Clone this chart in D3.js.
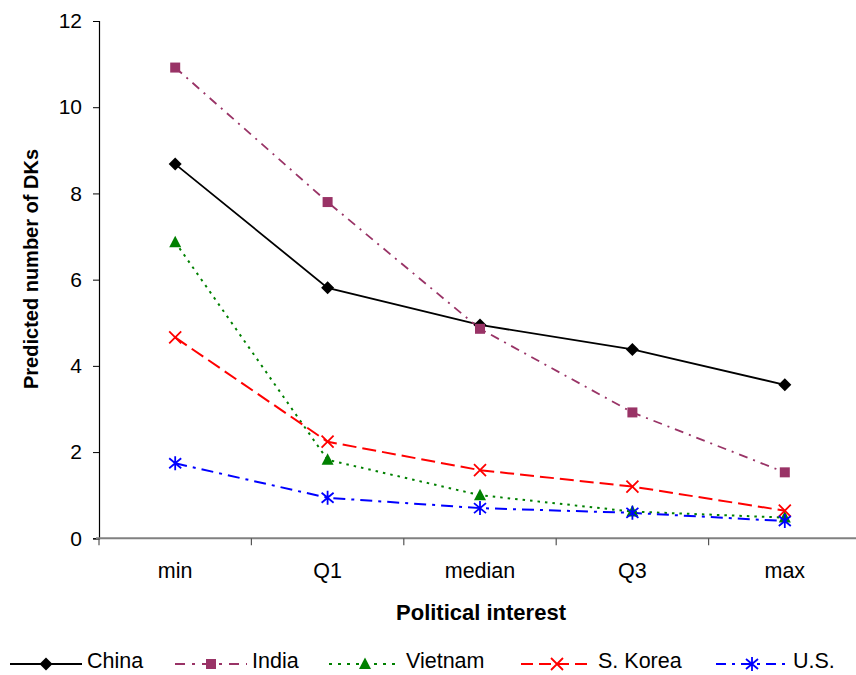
<!DOCTYPE html>
<html>
<head>
<meta charset="utf-8">
<script src="https://cdn.jsdelivr.net/npm/d3@7"></script>
<style>
  html, body { margin: 0; padding: 0; background: #fff; }
  svg { display: block; font-family: "Liberation Sans", Arial, sans-serif; }
</style>
</head>
<body>
<svg id="chart" width="856" height="675"></svg>
<script>
// Political interest levels along the x axis
const categories = ["min", "Q1", "median", "Q3", "max"];
const yTicks = [0, 2, 4, 6, 8, 10, 12];

// Predicted number of DKs per country
const china   = [8.68, 5.81, 4.95, 4.38, 3.56];
const india   = [10.92, 7.80, 4.86, 2.92, 1.53];
const vietnam = [6.87, 1.82, 1.00, 0.62, 0.48];
const korea   = [4.66, 2.24, 1.58, 1.20, 0.64];
const us      = [1.74, 0.94, 0.70, 0.59, 0.40];

const seriesNames = ["China", "India", "Vietnam", "S. Korea", "U.S."];

const series = [
  { name: seriesNames[0], values: china,   color: "#000000", dash: null,        legendDash: null,       width: 1.8, marker: "diamond" },
  { name: seriesNames[1], values: india,   color: "#993366", dash: "9,6,2,6",   legendDash: "10,7,3,7", width: 1.8, marker: "square" },
  { name: seriesNames[2], values: vietnam, color: "#008000", dash: "2.5,5",     legendDash: "3,6",      width: 2,   marker: "triangle" },
  { name: seriesNames[3], values: korea,   color: "#FF0000", dash: "14,6",      legendDash: "12,6",     width: 2,   marker: "x" },
  { name: seriesNames[4], values: us,      color: "#0000FF", dash: "12,6,3,6",  legendDash: "10,6,3,6", width: 2,   marker: "asterisk" }
];

// Legend layout: left edge of each entry's sample line
const legendX = [10, 175, 329, 521, 716];

const svg = d3.select("#chart");
const margin = { left: 99, right: -5, top: 21, bottom: 137 };
const W = 856, H = 675;
const plotRight = W - margin.right;       // plot area runs past the right edge
const plotBottom = H - margin.bottom;      // y of value 0

const x = d3.scaleBand().domain(categories).range([margin.left, plotRight]).padding(0);
const y = d3.scaleLinear().domain([0, 12]).range([plotBottom + 0.3, margin.top]);
const cx = c => x(c) + x.bandwidth() / 2;

// Y axis
const yAxis = d3.axisLeft(y).tickValues(yTicks).tickSize(6).tickPadding(11).tickFormat(d3.format("d"));
const gy = svg.append("g").attr("transform", `translate(${margin.left},0)`).call(yAxis);
gy.attr("font-size", 21).attr("font-family", "Liberation Sans, Arial, sans-serif");
gy.select(".domain").attr("stroke", "#000").attr("stroke-width", 1.2);
gy.selectAll(".tick line").attr("stroke", "#000");
gy.selectAll(".tick text").attr("fill", "#000");

// X axis: ticks at category boundaries
const boundaries = categories.map(c => x(c));
const gx = svg.append("g");
gx.append("line")
  .attr("x1", margin.left - 3).attr("x2", W)
  .attr("y1", y(0)).attr("y2", y(0))
  .attr("stroke", "#808080").attr("stroke-width", 2);
gx.selectAll("line.btick").data(boundaries).join("line")
  .attr("class", "btick")
  .attr("x1", d => d).attr("x2", d => d)
  .attr("y1", y(0)).attr("y2", y(0) + 7)
  .attr("stroke", "#555").attr("stroke-width", 1.2);
gx.selectAll("text.cat").data(categories).join("text")
  .attr("class", "cat")
  .attr("x", d => cx(d)).attr("y", 578)
  .attr("text-anchor", "middle").attr("font-size", 21.5).attr("fill", "#000")
  .text(d => d);

// Axis titles
svg.append("text")
  .attr("x", 481).attr("y", 620)
  .attr("text-anchor", "middle").attr("font-size", 22).attr("font-weight", "bold")
  .text("Political interest");
svg.append("text")
  .attr("transform", `translate(38,269) rotate(-90)`)
  .attr("text-anchor", "middle").attr("font-size", 20).attr("font-weight", "bold")
  .text("Predicted number of DKs");

// Marker drawing
function drawMarker(g, type, color) {
  switch (type) {
    case "diamond":
      g.append("path").attr("d", "M0,-6.5L6.5,0L0,6.5L-6.5,0Z").attr("fill", color);
      break;
    case "square":
      g.append("rect").attr("x", -5).attr("y", -5).attr("width", 10).attr("height", 10).attr("fill", color);
      break;
    case "triangle":
      g.append("path").attr("d", "M0,-6.5L6,5L-6,5Z").attr("fill", color);
      break;
    case "x":
      g.append("path").attr("d", "M-6,-6L6,6M-6,6L6,-6").attr("stroke", color).attr("stroke-width", 1.8).attr("fill", "none");
      break;
    case "asterisk":
      g.append("path").attr("d", "M-6,-5L6,5M-6,5L6,-5M0,-7L0,7").attr("stroke", color).attr("stroke-width", 1.8).attr("fill", "none");
      break;
  }
}

const line = d3.line().x((d, i) => cx(categories[i])).y(d => y(d));

series.forEach(s => {
  svg.append("path")
    .datum(s.values)
    .attr("d", line)
    .attr("fill", "none")
    .attr("stroke", s.color)
    .attr("stroke-width", s.width)
    .attr("stroke-dasharray", s.dash);
});

series.forEach(s => {
  s.values.forEach((v, i) => {
    const g = svg.append("g").attr("transform", `translate(${cx(categories[i])},${y(v)})`);
    drawMarker(g, s.marker, s.color);
  });
});

// Legend
const legendY = 664;
series.forEach((s, i) => {
  const lx = legendX[i];
  const g = svg.append("g");
  g.append("line")
    .attr("x1", lx).attr("x2", lx + 72)
    .attr("y1", legendY).attr("y2", legendY)
    .attr("stroke", s.color).attr("stroke-width", s.width)
    .attr("stroke-dasharray", s.legendDash);
  const m = g.append("g").attr("transform", `translate(${lx + 36},${legendY})`);
  drawMarker(m, s.marker, s.color);
  g.append("text")
    .attr("x", lx + 77).attr("y", legendY + 4)
    .attr("font-size", 21.5).attr("fill", "#000")
    .text(s.name);
});
</script>
</body>
</html>
